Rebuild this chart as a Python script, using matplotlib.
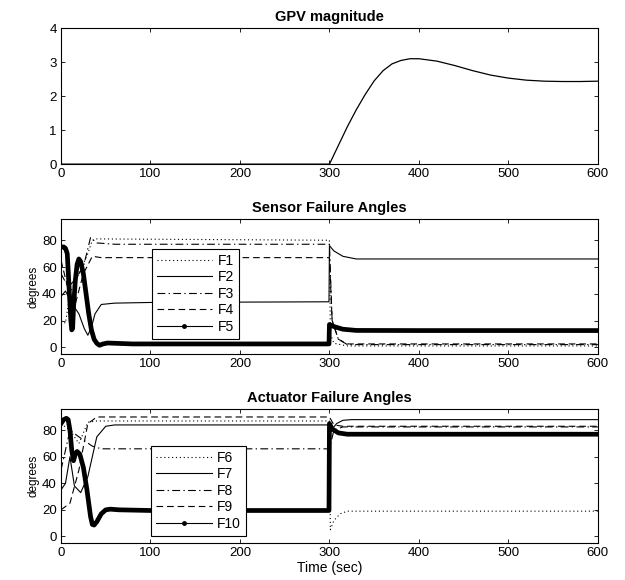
import matplotlib
matplotlib.use('Agg')
import matplotlib.pyplot as plt
from matplotlib.lines import Line2D

plt.rcParams['font.family'] = ['Liberation Sans', 'DejaVu Sans']

# GPV magnitude
gpv_t = [0, 300, 310, 320, 330, 340, 350, 360, 370, 380, 390, 400, 420, 440, 460, 480, 500, 520, 540, 560, 580, 600]
gpv_v = [0, 0, 0.55, 1.1, 1.6, 2.05, 2.45, 2.75, 2.95, 3.05, 3.1, 3.1, 3.03, 2.9, 2.75, 2.62, 2.53, 2.47, 2.44, 2.43, 2.43, 2.44]

# Sensor failure angles
f1_t = [0, 5, 10, 20, 30, 35, 40, 299.5, 300, 301, 305, 320, 600]
f1_v = [20, 18, 40, 55, 70, 80, 81, 80, 80, 10, 3, 1, 1]
f2_t = [0, 5, 12, 20, 26, 30, 34, 38, 45, 60, 100, 299.5, 300, 305, 315, 330, 600]
f2_v = [38, 42, 33, 25, 14, 9, 15, 25, 32, 33, 33.5, 34, 76, 72, 68, 66, 66]
f3_t = [0, 8, 15, 25, 33, 40, 60, 299.5, 300, 303, 310, 320, 600]
f3_v = [55, 45, 50, 60, 82, 78, 77, 77, 77, 20, 6, 2, 2]
f4_t = [0, 10, 15, 25, 35, 45, 299.5, 300, 303, 310, 320, 600]
f4_v = [65, 38, 30, 55, 68, 67, 67, 67, 20, 6, 2.5, 2.5]
f5_t = [0, 3, 5, 7, 9, 11, 12, 13, 14, 16, 18, 20, 22, 25, 28, 31, 34, 37, 40, 43, 47, 52, 60, 80, 150, 299.5,
        300, 305, 315, 330, 400, 600]
f5_v = [75, 75, 74, 70, 45, 20, 13, 14, 30, 50, 62, 66, 64, 55, 40, 25, 13, 6, 3, 1.5, 2.5, 3.2, 3, 2.5, 2.5, 2.5,
        17, 15.5, 13.5, 12.6, 12.5, 12.5]

# Actuator failure angles
f6_t = [0, 10, 20, 30, 40, 299.5, 300, 301, 305, 312, 320, 600]
f6_v = [85, 80, 70, 86, 87, 87, 87, 5, 12, 17, 19, 19]
f7_t = [0, 5, 10, 15, 22, 30, 40, 50, 60, 299.5, 300, 303, 308, 315, 325, 600]
f7_v = [35, 40, 60, 38, 33, 45, 75, 83, 84, 84, 84, 81, 85, 87.5, 88, 88]
f8_t = [0, 10, 20, 35, 45, 299.5, 300, 305, 315, 600]
f8_v = [50, 80, 75, 68, 66, 66, 66, 80, 82.5, 82.5]
f9_t = [0, 10, 20, 30, 40, 299.5, 300, 305, 315, 600]
f9_v = [20, 25, 50, 85, 90, 90, 90, 84, 83, 83]
f10_t = [0, 3, 6, 8, 10, 12, 14, 16, 18, 21, 25, 29, 33, 35, 37, 40, 45, 50, 55, 65, 100, 299.5,
         300, 303, 310, 320, 600]
f10_v = [85, 88, 89, 88, 80, 65, 57, 62, 64, 62, 52, 35, 15, 9, 8.5, 11, 17, 20, 20.5, 20, 19.5, 19.5,
         85, 81, 78, 77, 77]

dot = (0, (1, 2.5))
dash = (0, (6, 3.5))
dashdot = (0, (7, 3, 1.2, 3))

sensor = [(f1_t, f1_v, dot, 'F1'), (f2_t, f2_v, '-', 'F2'), (f3_t, f3_v, dashdot, 'F3'), (f4_t, f4_v, dash, 'F4')]
actuator = [(f6_t, f6_v, dot, 'F6'), (f7_t, f7_v, '-', 'F7'), (f8_t, f8_v, dashdot, 'F8'), (f9_t, f9_v, dash, 'F9')]

fig = plt.figure(figsize=(6.25, 5.8), dpi=100)
ax1 = fig.add_axes([0.0976, 0.717, 0.859, 0.2345])
ax2 = fig.add_axes([0.0976, 0.3897, 0.859, 0.233])
ax3 = fig.add_axes([0.0976, 0.0638, 0.859, 0.231])

for ax in (ax1, ax2, ax3):
    ax.set_xlim(0, 600)
    ax.set_xticks(range(0, 601, 100))
    ax.tick_params(direction='in', top=True, right=True, labelsize=9.5, length=3, width=0.6, pad=3)
    for s in ax.spines.values():
        s.set_linewidth(0.8)

ax1.plot(gpv_t, gpv_v, color='black', lw=0.9)
ax1.set_ylim(0, 4)
ax1.set_yticks([0, 1, 2, 3, 4])
ax1.set_title('GPV magnitude', fontsize=10.5, fontweight='bold', pad=5)


def draw_panel(ax, series, mark_t, mark_v, mark_name, title, anchor):
    handles = []
    for t, v, ls, name in series:
        h, = ax.plot(t, v, color='black', ls=ls, lw=0.8, label=name)
        handles.append(h)
    ax.plot(mark_t, mark_v, color='black', lw=3.4, solid_joinstyle='round')
    handles.append(Line2D([], [], color='black', lw=0.8, marker='o', ms=2.5, label=mark_name))
    ax.set_ylim(-5, 96)
    ax.set_yticks([0, 20, 40, 60, 80])
    ax.set_ylabel('degrees', fontsize=8.5, labelpad=2)
    ax.set_title(title, fontsize=10.5, fontweight='bold', pad=5)
    leg = ax.legend(handles=handles, loc='upper left', bbox_to_anchor=anchor, borderaxespad=0,
                    fancybox=False, edgecolor='black', framealpha=1, fontsize=10,
                    handlelength=4.0, handletextpad=0.4, labelspacing=0.18, borderpad=0.35)
    leg.get_frame().set_linewidth(0.8)


draw_panel(ax2, sensor, f5_t, f5_v, 'F5', 'Sensor Failure Angles', (0.169, 0.778))
draw_panel(ax3, actuator, f10_t, f10_v, 'F10', 'Actuator Failure Angles', (0.168, 0.724))
ax3.set_xlabel('Time (sec)', fontsize=10, labelpad=1)

fig.savefig('out.png', dpi=100)
